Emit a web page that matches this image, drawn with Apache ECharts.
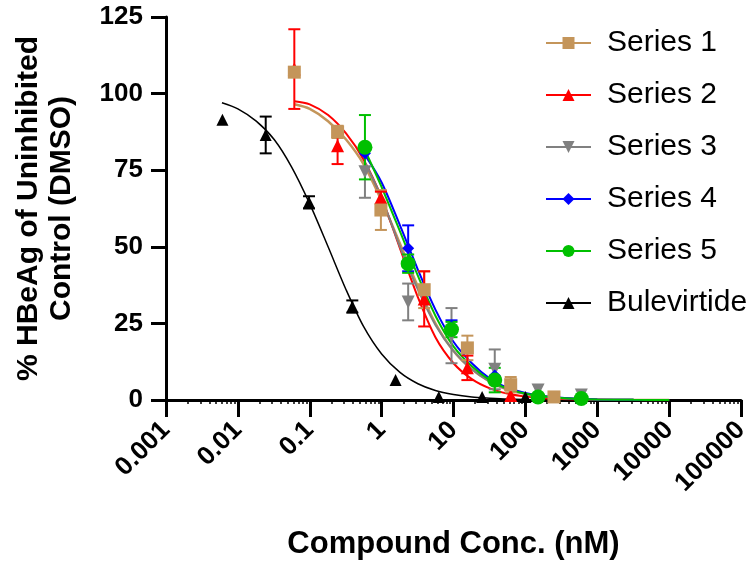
<!DOCTYPE html>
<html>
<head>
<meta charset="utf-8">
<script src="https://cdn.jsdelivr.net/npm/echarts@6/dist/echarts.min.js"></script>
<style>
html, body { margin: 0; padding: 0; background: #fff; }
#chart { width: 756px; height: 562px; }
</style>
</head>
<body>
<div id="chart"></div>
<script>
// tick labels of the log x axis
var xTickLabels = ['0.001', '0.01', '0.1', '1', '10', '100', '1000', '10000', '100000'];

var names = ['Series 1', 'Series 2', 'Series 3', 'Series 4', 'Series 5', 'Bulevirtide'];
var colors = ['#C4955A', '#FF0000', '#808080', '#0000FF', '#00C000', '#000000'];

// measured points (conc nM, mean %, error)
var conc1 = [0.061, 0.244, 0.977, 3.91, 15.6, 62.5, 250];
var mean1 = [107, 87.5, 62, 36, 17, 5, 1];
var err1 = [0, 2, 6.5, 6, 4, 2.5, 0];

var conc2 = [0.061, 0.244, 0.977, 3.91, 15.6, 62.5];
var mean2 = [108, 83, 66, 33, 10.5, 1.5];
var err2 = [13, 6, 2, 9, 4, 0];

var conc345 = [0.586, 2.34, 9.38, 37.5, 150, 600];
var mean3 = [74.5, 32, 21, 10, 3.3, 1.6];
var err3 = [8.5, 6, 9, 6.5, 0, 0];
var mean4 = [80.5, 49.5, 24, 8, 1, 0.5];
var err4 = [0, 7.5, 2, 0, 0, 0];
var mean5 = [82.5, 44.5, 23, 6.5, 1, 0.5];
var err5 = [10.5, 3, 2.5, 4, 0, 0];

var concB = [0.0061, 0.0244, 0.0977, 0.391, 1.5625, 6.25, 25, 100];
var meanB = [91.5, 86.5, 64.5, 30.5, 6.5, 1, 1, 1];
var errB = [0, 6, 2, 2, 0, 0, 0, 0];

// fitted curves
var fitX12 = [0.061, 0.1, 0.18, 0.32, 0.56, 1, 1.8, 3.2, 5.6, 10, 18, 32, 56, 100, 180, 320, 560, 1000, 3200, 10000];
var fit1 = [96.5, 95, 91, 85, 77, 65, 51, 37, 25, 16, 10, 6, 3.4, 2, 1.1, 0.6, 0.35, 0.2, 0.05, 0];
var fit2 = [97.5, 96.5, 93, 87, 78.5, 66, 49.5, 33.5, 20.5, 12, 6.8, 3.8, 2.1, 1.1, 0.6, 0.3, 0.15, 0.1, 0, 0];
var fitX345 = [0.586, 1, 1.8, 3.2, 5.6, 10, 18, 32, 56, 100, 180, 320, 560, 1000, 3200, 10000];
var fit3 = [77.5, 66, 50, 36, 24.5, 16, 10, 6, 3.5, 2, 1.1, 0.6, 0.35, 0.2, 0.05, 0];
var fit4 = [80, 71, 57, 42.5, 29.5, 19, 12, 7, 4, 2.3, 1.3, 0.7, 0.4, 0.2, 0.05, 0];
var fit5 = [81.5, 69.5, 55, 40.5, 27.5, 17.5, 11, 6.5, 3.7, 2.1, 1.2, 0.65, 0.35, 0.2, 0.05, 0];
var fitXB = [0.006, 0.01, 0.018, 0.032, 0.056, 0.1, 0.18, 0.32, 0.56, 1, 1.8, 3.2, 5.6, 10, 18, 32, 56, 100];
var fitB = [97, 95, 91, 85, 76, 64, 50, 36, 24, 15, 9, 5.3, 3.1, 1.8, 1, 0.6, 0.3, 0.2];

var FONT = '"Liberation Sans", Arial, sans-serif';
var downTri = 'path://M0,0 L10,0 L5,10 Z';

var groups = [
  { conc: conc1, mean: mean1, err: err1, fx: fitX12, fy: fit1, symbol: 'rect', size: 13, lw: 2.5 },
  { conc: conc2, mean: mean2, err: err2, fx: fitX12, fy: fit2, symbol: 'triangle', size: 13, lw: 2 },
  { conc: conc345, mean: mean3, err: err3, fx: fitX345, fy: fit3, symbol: downTri, size: 13, lw: 2 },
  { conc: conc345, mean: mean4, err: err4, fx: fitX345, fy: fit4, symbol: 'diamond', size: 12, lw: 2 },
  { conc: conc345, mean: mean5, err: err5, fx: fitX345, fy: fit5, symbol: 'circle', size: 15, lw: 2 },
  { conc: concB, mean: meanB, err: errB, fx: fitXB, fy: fitB, symbol: 'triangle', size: 12, lw: 1.5 }
];

function zip(a, b) {
  var out = [];
  for (var i = 0; i < a.length; i++) out.push([a[i], b[i]]);
  return out;
}

function errBar(color) {
  return function (params, api) {
    var x = api.value(0), y = api.value(1), e = api.value(2);
    var top = api.coord([x, y + e]);
    var bot = api.coord([x, y - e]);
    var h = 6;
    var st = { stroke: color, lineWidth: 2 };
    return {
      type: 'group',
      children: [
        { type: 'line', shape: { x1: top[0], y1: top[1], x2: bot[0], y2: bot[1] }, style: st },
        { type: 'line', shape: { x1: top[0] - h, y1: top[1], x2: top[0] + h, y2: top[1] }, style: st },
        { type: 'line', shape: { x1: bot[0] - h, y1: bot[1], x2: bot[0] + h, y2: bot[1] }, style: st }
      ]
    };
  };
}

var series = [];
// curves first so the legend takes its icon from them
groups.forEach(function (g, i) {
  series.push({
    name: names[i], type: 'line', data: zip(g.fx, g.fy),
    smooth: 0.3,
    symbol: g.symbol, showSymbol: false, symbolSize: g.size,
    lineStyle: { color: colors[i], width: g.lw },
    itemStyle: { color: colors[i] },
    z: 2, silent: true
  });
});
groups.forEach(function (g, i) {
  var d = [];
  for (var k = 0; k < g.conc.length; k++) {
    if (g.err[k] > 0) d.push([g.conc[k], g.mean[k], g.err[k]]);
  }
  series.push({
    name: names[i] + ' err', type: 'custom', data: d,
    renderItem: errBar(colors[i]), encode: { x: 0, y: 1 }, z: 3, silent: true
  });
});
[1, 2, 3, 4, 0, 5].forEach(function (i) {
  var g = groups[i];
  series.push({
    name: names[i], type: 'scatter', data: zip(g.conc, g.mean),
    symbol: g.symbol, symbolSize: g.size,
    itemStyle: { color: colors[i], opacity: 1 },
    z: 4, silent: true
  });
});

var chart = echarts.init(document.getElementById('chart'));
chart.setOption({
  animation: false,
  backgroundColor: '#fff',
  grid: { left: 166, right: 15, top: 17, bottom: 162, containLabel: false, outerBoundsMode: 'none' },
  legend: {
    data: names, orient: 'vertical', left: 540, top: 23,
    itemWidth: 45, itemHeight: 15, itemGap: 22,
    selectedMode: false,
    textStyle: { fontFamily: FONT, fontSize: 30, color: '#000', lineHeight: 30, padding: [0, 0, 0, 11] }
  },
  xAxis: {
    type: 'log', logBase: 10, min: 0.001, max: 100000,
    name: 'Compound Conc. (nM)', nameLocation: 'middle', nameGap: 129,
    nameTextStyle: { fontFamily: FONT, fontSize: 31, fontWeight: 'bold', color: '#000' },
    axisLine: { lineStyle: { color: '#000', width: 3 } },
    axisTick: { length: 17, lineStyle: { width: 3, color: '#000' } },
    minorTick: { show: true, splitNumber: 9, length: 4, lineStyle: { width: 1.5, color: '#000' } },
    splitLine: { show: false },
    axisLabel: {
      rotate: 45, margin: 26, fontFamily: FONT, fontSize: 26, fontWeight: 'bold', color: '#000',
      formatter: function (v) { return xTickLabels[Math.round(Math.log10(v)) + 3]; }
    }
  },
  yAxis: {
    type: 'value', min: 0, max: 125, interval: 25,
    name: '% HBeAg of Uninhibited\nControl (DMSO)', nameLocation: 'middle', nameGap: 88, nameRotate: 90,
    nameTextStyle: { fontFamily: FONT, fontSize: 30, fontWeight: 'bold', color: '#000', lineHeight: 33 },
    axisLine: { show: true, lineStyle: { color: '#000', width: 3 } },
    axisTick: { show: true, length: 15, lineStyle: { width: 3, color: '#000' } },
    splitLine: { show: false },
    axisLabel: { margin: 23, fontFamily: FONT, fontSize: 26, fontWeight: 'bold', color: '#000' }
  },
  series: series
});
</script>
</body>
</html>
